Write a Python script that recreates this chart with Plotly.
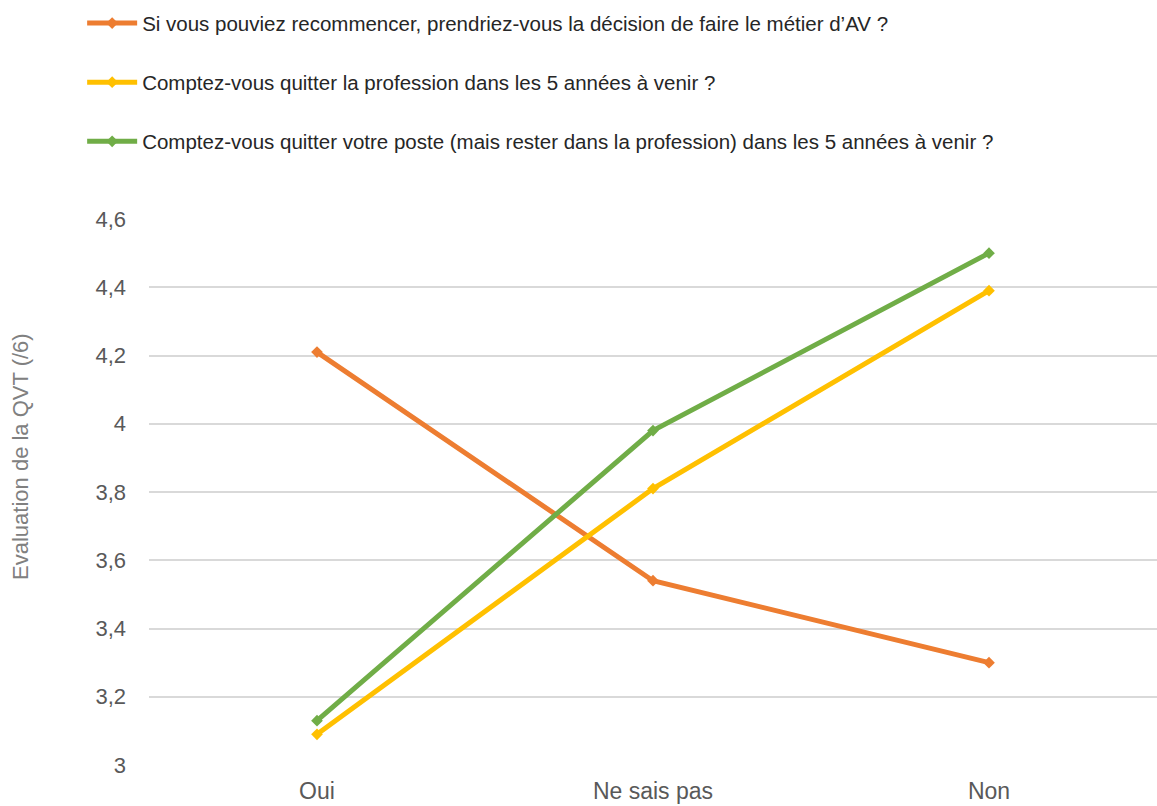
import plotly.graph_objects as go

# Réponses possibles (axe des abscisses)
categories = ["Oui", "Ne sais pas", "Non"]

# Libellés des questions
q_recommencer = "Si vous pouviez recommencer, prendriez-vous la décision de faire le métier d’AV ?"
q_profession = "Comptez-vous quitter la profession dans les 5 années à venir ?"
q_poste = "Comptez-vous quitter votre poste (mais rester dans la profession) dans les 5 années à venir ?"

# Évaluation moyenne de la QVT (/6) selon la réponse
qvt_recommencer = [4.21, 3.54, 3.30]
qvt_profession = [3.09, 3.81, 4.39]
qvt_poste = [3.13, 3.98, 4.50]

y_ticks = [3, 3.2, 3.4, 3.6, 3.8, 4, 4.2, 4.4, 4.6]
y_tick_labels = ["3", "3,2", "3,4", "3,6", "3,8", "4", "4,2", "4,4", "4,6"]
y_title = "Evaluation de la QVT (/6)"

series = [
    (q_recommencer, qvt_recommencer, "#ED7D31", "g1"),
    (q_profession, qvt_profession, "#FFC000", "g2"),
    (q_poste, qvt_poste, "#70AD47", "g3"),
]

fig = go.Figure()
for name, values, color, group in series:
    fig.add_trace(go.Scatter(
        x=categories,
        y=values,
        name=name,
        mode="lines+markers",
        line=dict(color=color, width=5),
        marker=dict(symbol="diamond", size=9, color=color),
        legendgroup=group,
    ))

fig.update_layout(
    width=1157,
    height=806,
    margin=dict(l=149, r=0, t=219, b=41, autoexpand=False),
    paper_bgcolor="white",
    plot_bgcolor="white",
    font=dict(family="Liberation Sans, Arial, sans-serif", color="#595959"),
    showlegend=True,
    legend=dict(
        x=0.071, y=0.996,
        xref="container", yref="container",
        xanchor="left", yanchor="top",
        orientation="v",
        tracegroupgap=29.5,
        itemwidth=50,
        font=dict(size=20.5, color="#262626"),
        bgcolor="rgba(0,0,0,0)",
    ),
    xaxis=dict(
        type="category",
        range=[-0.5, 2.5],
        showgrid=False,
        showline=False,
        zeroline=False,
        tickfont=dict(size=23, color="#595959"),
        ticklabelstandoff=10,
    ),
    yaxis=dict(
        range=[3, 4.6],
        tickvals=y_ticks,
        ticktext=y_tick_labels,
        showgrid=True,
        gridcolor="#D9D9D9",
        gridwidth=2,
        zeroline=False,
        showline=False,
        tickfont=dict(size=22, color="#595959"),
        ticklabelstandoff=22,
    ),
    annotations=[dict(
        text=y_title,
        textangle=-90,
        xref="paper", yref="paper",
        x=-0.127, y=0.566,
        xanchor="center", yanchor="middle",
        showarrow=False,
        font=dict(size=22, color="#808080"),
    )],
)

fig.write_html("out.html")
